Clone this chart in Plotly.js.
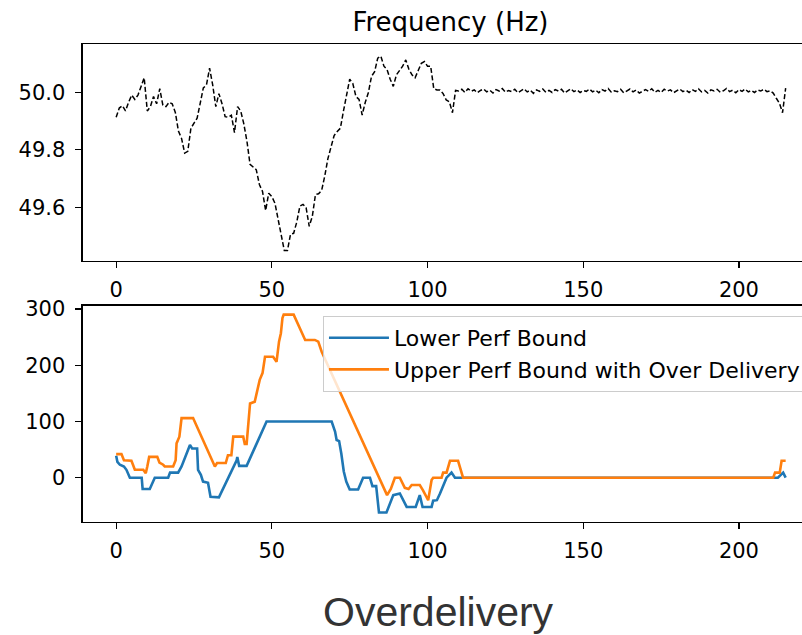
<!DOCTYPE html>
<html>
<head>
<meta charset="utf-8">
<script src="https://cdn.plot.ly/plotly-3.0.1.min.js"></script>
<style>html,body{margin:0;padding:0;background:#fff;}#chart{width:802px;height:635px;}</style>
</head>
<body>
<div id="chart"></div>
<script>
// Frequency (Hz), one sample per second, t = 0..215
const frequency = [
  49.913, 49.945, 49.953, 49.935, 49.965, 49.990, 49.975, 49.990, 50.020, 50.050,
  49.935, 49.950, 49.985, 49.960, 50.012, 49.955, 49.950, 49.965, 49.960, 49.930,
  49.865, 49.840, 49.789, 49.795, 49.875, 49.895, 49.910, 49.962, 50.015, 50.025,
  50.083, 50.025, 49.950, 49.995, 49.960, 49.915, 49.913, 49.920, 49.860, 49.950,
  49.935, 49.890, 49.830, 49.750, 49.742, 49.731, 49.680, 49.656, 49.590, 49.650,
  49.638, 49.615, 49.560, 49.500, 49.451, 49.451, 49.508, 49.511, 49.550, 49.605,
  49.611, 49.600, 49.535, 49.570, 49.645, 49.648, 49.660, 49.710, 49.770, 49.810,
  49.850, 49.864, 49.875, 49.935, 49.990, 50.045, 50.030, 49.985, 49.975, 49.921,
  49.965, 49.999, 50.055, 50.071, 50.118, 50.125, 50.090, 50.078, 50.045, 50.020,
  50.060, 50.075, 50.090, 50.112, 50.080, 50.060, 50.050, 50.075, 50.100, 50.106,
  50.090, 50.090, 50.012, 50.008, 50.008, 49.995, 49.973, 49.967, 49.929, 50.006,
  50.004, 50.010, 49.999, 50.012, 50.003, 50.008, 49.998, 50.006, 50.011, 50.001,
  50.007, 49.997, 50.009, 50.004, 50.013, 50.000, 50.006, 50.002, 50.010, 49.998,
  50.005, 50.012, 50.001, 50.007, 49.996, 50.008, 50.003, 50.011, 50.000, 50.006,
  49.999, 50.009, 50.004, 50.010, 49.997, 50.005, 50.012, 50.002, 50.008, 49.999,
  50.006, 50.003, 50.011, 50.001, 50.007, 49.998, 50.009, 50.004, 50.013, 50.000,
  50.005, 50.002, 50.010, 49.998, 50.006, 50.011, 50.001, 50.008, 49.997, 50.004,
  50.009, 50.003, 50.012, 50.000, 50.006, 49.999, 50.010, 50.004, 50.008, 49.998,
  50.005, 50.011, 50.002, 50.007, 49.999, 50.009, 50.003, 50.012, 50.001, 50.006,
  49.997, 50.008, 50.004, 50.010, 50.000, 50.005, 50.013, 50.002, 50.007, 49.998,
  50.009, 50.003, 50.011, 50.001, 50.006, 49.999, 50.008, 50.004, 50.010, 50.002,
  50.005, 49.997, 49.979, 49.962, 49.929, 50.014
];
const frequencyTime = frequency.map((_, i) => i);

// Lower Perf Bound (vertices)
const lowerTime = [0, 0.4, 1.2, 2.5, 3.3, 4.4, 8.2, 8.5, 10.8, 12.4, 16.7, 17.3, 19.9, 21.0, 23.7, 24.4, 26.0, 26.3, 27.2, 27.9, 29.5, 30.3, 33.0, 38.7, 38.9, 39.5, 41.9, 48.3, 69.2, 70.3, 70.8, 71.6, 72.3, 73.1, 73.9, 75.0, 77.7, 79.3, 81.5, 82.3, 83.5, 84.1, 84.4, 86.8, 89.0, 91.1, 92.1, 93.3, 96.2, 97.5, 98.4, 101.3, 101.8, 103.0, 104.0, 106.1, 107.7, 108.8, 212.5, 214.2, 215];
const lowerBound = [39, 28, 23, 20, 14, 0, 0, -20, -20, 0, 0, 9, 9, 20, 58, 52, 52, 14, 5, -7, -9, -34, -35, 31, 37, 21, 21, 100, 100, 82, 67, 65, 43, 11, -7, -21, -21, 0, 0, -15, -15, -40, -62, -62, -31, -28, -40, -52, -52, -31, -52, -52, -41, -40, -28, 0, 9, 0, 0, 9, 0];

// Upper Perf Bound with Over Delivery
const upperTime = [0, 1.7, 2.5, 4.9, 5.4, 6.0, 8.7, 9.5, 10.0, 10.6, 13.2, 13.9, 15.1, 15.6, 18.3, 19.1, 19.4, 20.3, 21.0, 24.7, 31.7, 32.4, 35.2, 35.9, 37.0, 37.6, 40.8, 41.3, 41.9, 42.4, 43.0, 44.5, 45.3, 46.1, 47.0, 47.8, 50.4, 51.5, 52.3, 52.9, 53.4, 53.8, 57.0, 60.0, 60.7, 63.8, 64.9, 66.0, 87.0, 88.2, 89.5, 91.1, 92.7, 93.9, 94.9, 97.5, 98.5, 100.2, 101.3, 101.8, 104.5, 105.0, 106.1, 107.2, 109.8, 111.4, 211.0, 211.6, 213.1, 213.7, 215];
const upperBound = [42, 42, 31, 30, 23, 14, 14, 8, 20, 37, 37, 27, 23, 20, 20, 31, 61, 73, 106, 106, 20, 26, 26, 40, 40, 73, 73, 60, 60, 97, 132, 135, 156, 174, 186, 215, 215, 206, 242, 257, 284, 290, 290, 255, 245, 245, 242, 224, -31, -20, 0, 0, -18, -20, -13, -13, -22, -40, -4, 0, 0, 9, 9, 30, 30, 0, 0, 9, 9, 30, 30];

const xTicks = [0, 50, 100, 150, 200];
const frequencyTicks = [49.6, 49.8, 50.0];
const boundTicks = [0, 100, 200, 300];

const tickFont = {family: 'DejaVu Sans', size: 21, color: '#000'};
function xAxis(anchor) {
  return {
    anchor: anchor, domain: [0.1031, 1], range: [-10.75, 220.25],
    tickvals: xTicks, ticks: 'outside', ticklen: 6, tickwidth: 1.2, tickcolor: '#000',
    showline: true, linecolor: '#000', linewidth: 1.2, mirror: true,
    showgrid: false, zeroline: false, tickfont: tickFont, ticklabelstandoff: 4, automargin: false
  };
}
function yAxis(anchor, domain, range, vals, fmt) {
  return {
    anchor: anchor, domain: domain, range: range,
    tickvals: vals, tickformat: fmt, ticks: 'outside', ticklen: 6, tickwidth: 1.2, tickcolor: '#000',
    showline: true, linecolor: '#000', linewidth: 1.2, mirror: false,
    showgrid: false, zeroline: false, tickfont: tickFont, ticklabelstandoff: 6, automargin: false
  };
}

const traces = [
  {x: frequencyTime, y: frequency, xaxis: 'x', yaxis: 'y', type: 'scatter', mode: 'lines',
   line: {color: '#000', width: 1.5, dash: '5px,2.5px'}, showlegend: false, hoverinfo: 'skip'},
  {x: lowerTime, y: lowerBound, xaxis: 'x2', yaxis: 'y2', type: 'scatter', mode: 'lines',
   name: 'Lower Perf Bound', line: {color: '#1f77b4', width: 2.6}},
  {x: upperTime, y: upperBound, xaxis: 'x2', yaxis: 'y2', type: 'scatter', mode: 'lines',
   name: 'Upper Perf Bound with Over Delivery', line: {color: '#ff7f0e', width: 2.6}}
];

const layout = {
  width: 802, height: 635,
  margin: {l: 0, r: 0, t: 0, b: 0, autoexpand: false},
  paper_bgcolor: '#fff', plot_bgcolor: '#fff',
  title: {text: 'Frequency (Hz)', font: {family: 'DejaVu Sans', size: 26, color: '#000'},
          xref: 'paper', yref: 'container', x: 0.5617, xanchor: 'center', y: 1 - 22 / 635, yanchor: 'middle'},
  xaxis: xAxis('y'),
  yaxis: yAxis('x', [0.5890, 0.9307], [49.415, 50.167], frequencyTicks, '.1f'),
  xaxis2: xAxis('y2'),
  yaxis2: yAxis('x2', [0.1784, 0.5186], [-78.3, 305.9], boundTicks, 'd'),
  showlegend: true,
  legend: {x: 0.4027, y: 0.5024, xanchor: 'left', yanchor: 'top',
           bgcolor: 'rgba(255,255,255,0.8)', bordercolor: '#cccccc', borderwidth: 1,
           font: {family: 'DejaVu Sans', size: 22, color: '#000'}, itemwidth: 60, tracegroupgap: 0},
  annotations: [
    {text: 'Overdelivery', xref: 'paper', yref: 'paper', x: 438.5 / 802, y: 1 - 612 / 635,
     xanchor: 'center', yanchor: 'middle', showarrow: false,
     font: {family: 'Liberation Sans', size: 41, color: '#333'}}
  ]
};

Plotly.newPlot('chart', traces, layout, {displayModeBar: false, staticPlot: true});
</script>
</body>
</html>
